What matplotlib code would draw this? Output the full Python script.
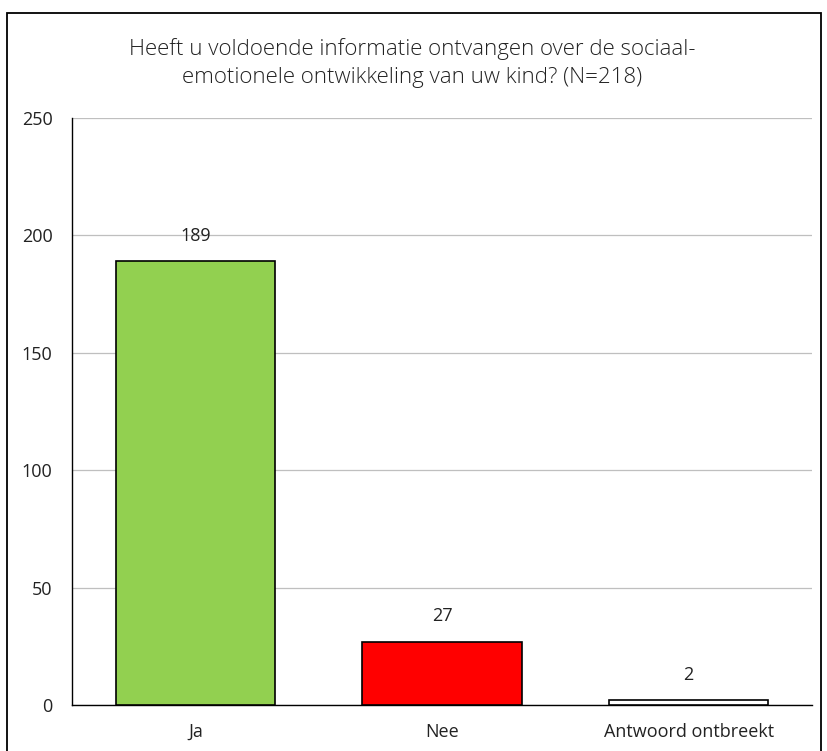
import matplotlib
matplotlib.use("Agg")
import matplotlib.pyplot as plt
from matplotlib.patches import Rectangle

categories = ["Ja", "Nee", "Antwoord ontbreekt"]
values = [189, 27, 2]
colors = ["#92D050", "#FF0000", "#FFFFFF"]
yticks = [0, 50, 100, 150, 200, 250]
title = "Heeft u voldoende informatie ontvangen over de sociaal-\nemotionele ontwikkeling van uw kind? (N=218)"

plt.rcParams['font.family'] = ['Open Sans', 'DejaVu Sans']

W, H = 827, 751
fig = plt.figure(figsize=(W/100, H/100), dpi=100)
ax = fig.add_axes([72/W, 1 - 705/H, (812-72)/W, (705-118)/H])

x = range(len(categories))
ax.bar(x, values, width=0.645, color=colors, edgecolor="black", linewidth=1.2, zorder=3)
for xi, v in zip(x, values):
    ax.annotate(str(v), (xi, v), xytext=(0, 12), textcoords="offset points",
                ha="center", va="bottom", fontsize=13, color="#222222")

ax.set_xlim(-0.5, 2.5)
ax.set_ylim(0, 250)
ax.set_yticks(yticks)
ax.set_xticks(list(x))
ax.set_xticklabels(categories)
ax.tick_params(axis="both", length=0, labelsize=13, colors="#222222")
ax.tick_params(axis="y", pad=14)
ax.tick_params(axis="x", pad=13)
ax.grid(axis="y", color="#BFBFBF", linewidth=0.9, zorder=0)
for s in ["top", "right"]:
    ax.spines[s].set_visible(False)
for s in ["left", "bottom"]:
    ax.spines[s].set_color("black")
    ax.spines[s].set_linewidth(1.0)

fig.text(412/W, 1 - 63/H, title, ha="center", va="center",
         fontsize=16, color="#222222", linespacing=1.45, fontweight="light")

fig.patches.append(Rectangle((7/W, -0.01), (821-7)/W, 1 - 13/H + 0.01,
                             transform=fig.transFigure, fill=False,
                             edgecolor="black", linewidth=1.3))

fig.savefig("out.png", dpi=100)
